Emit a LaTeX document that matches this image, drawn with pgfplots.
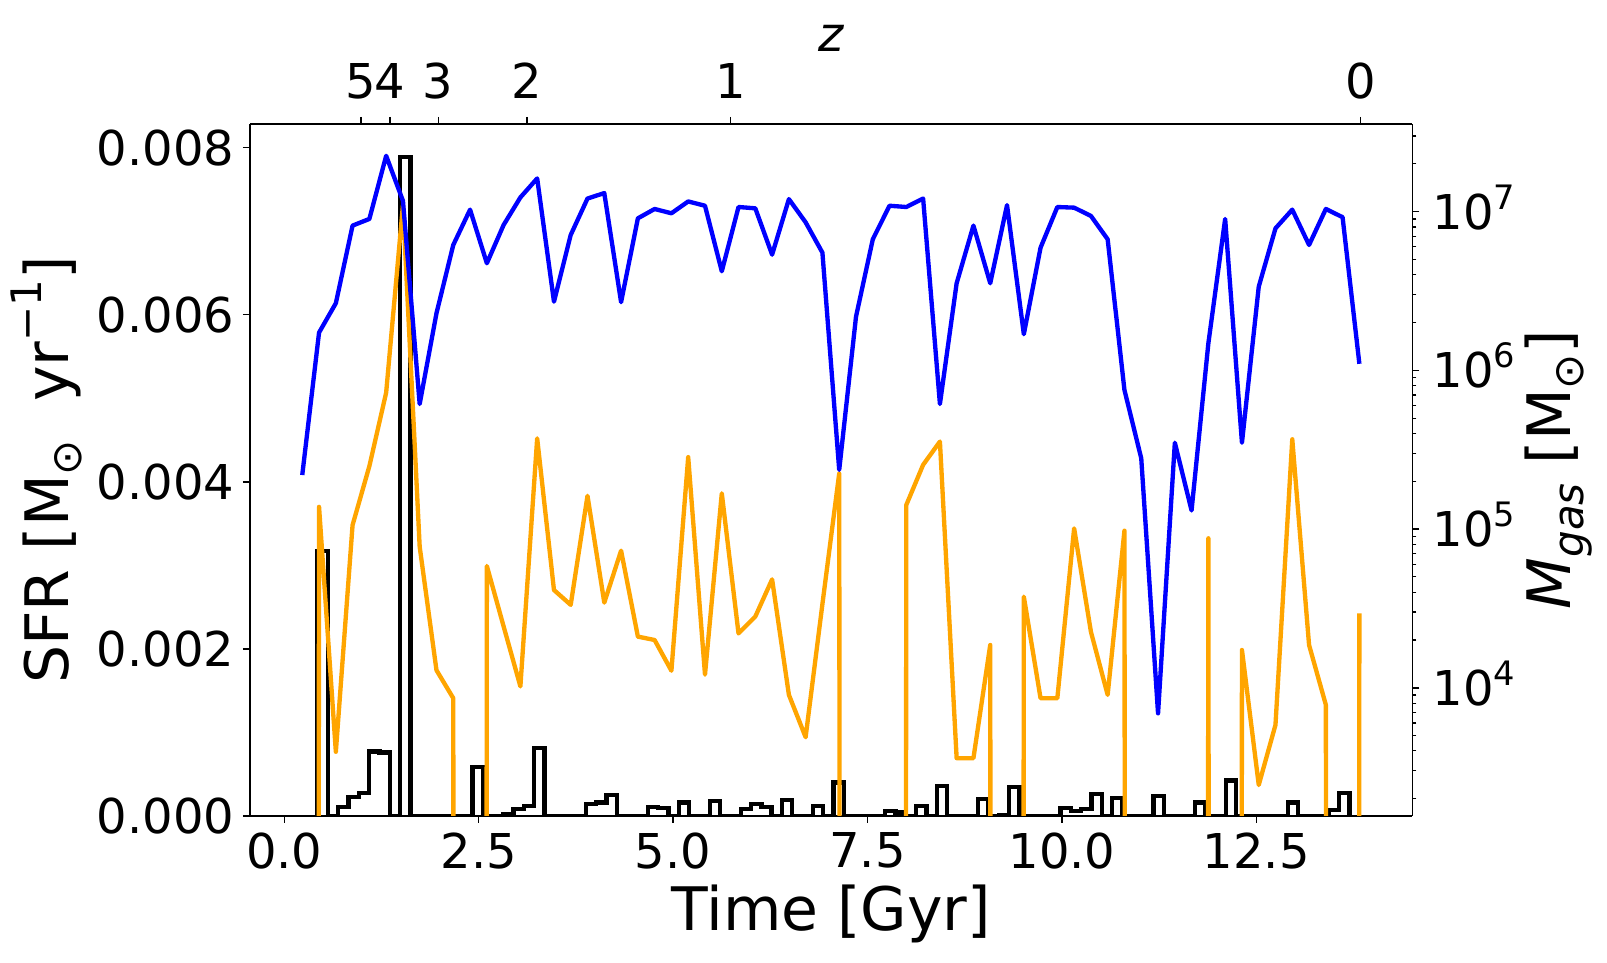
\documentclass[border=0pt]{standalone}
\usepackage{fontspec}
\setmainfont{DejaVu Sans}
\usepackage{pgfplots}
\usepackage{pgfplotstable}
\pgfplotsset{compat=1.18}

\definecolor{gasblue}{RGB}{0,0,255}
\definecolor{coldorange}{RGB}{255,165,0}

\newcommand{\ticksize}{\fontsize{14.4}{14.4}\selectfont}
\newcommand{\labsize}{\fontsize{18}{18}\selectfont}
\newcommand{\dec}[1]{10\raisebox{0.42em}{\fontsize{10.1}{10.1}\selectfont #1}}
\newcommand{\msun}{M\raisebox{-0.22em}{\fontsize{12.6}{12.6}\selectfont ⊙}}

% Gas masses per snapshot: total gas (blue) and cold gas (orange).
% A cold-gas value of 1e-100 stands for an empty snapshot (no cold gas).
\pgfplotstableread{
t       gas      cold
0.231   2.19e5   1e-100
0.447   1.73e6   1.38e5
0.663   2.65e6   3.95e3
0.878   8.17e6   1.06e5
1.094   9.00e6   2.49e5
1.310   2.25e7   7.24e5
1.526   1.17e7   1.10e7
1.741   6.14e5   7.74e4
1.957   2.29e6   1.29e4
2.173   6.17e6   8.59e3
2.389   1.03e7   1e-100
2.605   4.73e6   5.85e4
2.820   8.24e6   2.44e4
3.036   1.23e7   1.02e4
3.252   1.62e7   3.73e5
3.468   2.71e6   4.13e4
3.683   7.13e6   3.33e4
3.899   1.21e7   1.62e5
4.115   1.31e7   3.44e4
4.331   2.69e6   7.31e4
4.547   9.08e6   2.10e4
4.762   1.04e7   2.00e4
4.978   9.77e6   1.28e4
5.194   1.16e7   2.84e5
5.410   1.09e7   1.21e4
5.626   4.21e6   1.68e5
5.841   1.07e7   2.20e4
6.057   1.05e7   2.81e4
6.273   5.36e6   4.82e4
6.489   1.20e7   9.02e3
6.704   8.57e6   4.88e3
6.920   5.52e6   3.37e4
7.136   2.36e5   2.24e5
7.352   2.18e6   1e-100
7.568   6.70e6   1e-100
7.783   1.09e7   1e-100
7.999   1.07e7   1.42e5
8.215   1.21e7   2.54e5
8.431   6.14e5   3.56e5
8.646   3.54e6   3.60e3
8.862   8.17e6   3.60e3
9.078   3.54e6   1.86e4
9.294   1.10e7   1e-100
9.510   1.69e6   3.75e4
9.725   5.93e6   8.59e3
9.941   1.07e7   8.59e3
10.157  1.06e7   1.01e5
10.373  9.40e6   2.25e4
10.588  6.70e6   9.02e3
10.804  7.52e5   9.77e4
11.020  2.79e5   1e-100
11.236  6.90e3   1e-100
11.452  3.50e5   1e-100
11.667  1.31e5   1e-100
11.883  1.48e6   8.75e4
12.099  9.00e6   1e-100
12.315  3.50e5   1.73e4
12.531  3.37e6   2.44e3
12.746  7.85e6   5.83e3
12.962  1.03e7   3.68e5
13.178  6.17e6   1.86e4
13.394  1.04e7   7.80e3
13.609  9.23e6   1e-100
13.825  1.10e6   2.94e4
}\gasdata

% Star formation rate histogram: left bin edge and SFR in the bin.
% First and last rows close the outline at zero.
\pgfplotstableread{
edge     sfr
0.4275   0
0.4275   0.003175
0.5602   0
0.6929   0.000111
0.8257   0.000231
0.9584   0.000279
1.0911   0.000770
1.2238   0.000758
1.3565   0
1.4893   0.007886
1.6220   0
1.7547   0
1.8874   0
2.0201   0
2.1529   0
2.2856   0
2.4183   0.000590
2.5510   0
2.6837   0
2.8165   0.000024
2.9492   0.000080
3.0819   0.000120
3.2146   0.000810
3.3473   0
3.4801   0
3.6128   0
3.7455   0
3.8782   0.000144
4.0109   0.000160
4.1437   0.000251
4.2764   0
4.4091   0
4.5418   0
4.6745   0.000104
4.8073   0.000092
4.9400   0
5.0727   0.000160
5.2054   0
5.3381   0
5.4709   0.000183
5.6036   0
5.7363   0
5.8690   0.000080
6.0017   0.000140
6.1345   0.000111
6.2672   0
6.3999   0.000191
6.5326   0
6.6653   0
6.7981   0.000120
6.9308   0
7.0635   0.000399
7.1962   0
7.3289   0
7.4617   0
7.5944   0
7.7271   0.000060
7.8598   0.000040
7.9925   0
8.1253   0.000120
8.2580   0
8.3907   0.000359
8.5234   0
8.6561   0
8.7889   0
8.9216   0.000200
9.0543   0
9.1870   0.000010
9.3197   0.000351
9.4525   0
9.5852   0
9.7179   0
9.8506   0
9.9833   0.000092
10.1161  0.000063
10.2488  0.000080
10.3815  0.000263
10.5142  0
10.6469  0.000212
10.7797  0
10.9124  0
11.0451  0
11.1778  0.000239
11.3105  0
11.4433  0
11.5760  0
11.7087  0.000160
11.8414  0
11.9741  0
12.1069  0.000423
12.2396  0
12.3723  0
12.5050  0
12.6377  0
12.7705  0
12.9032  0.000160
13.0359  0
13.1686  0
13.3013  0
13.4341  0.000072
13.5668  0.000279
13.6995  0
}\sfrhist

\pgfplotsset{
  common/.style={
    at={(0,0)}, anchor=south west,
    scale only axis, width=348.7pt, height=207.6pt,
    xmin=-0.441, xmax=14.506,
    axis line style={line width=0.48pt, black},
    tick align=outside,
    major tick length=2.1pt, minor tick length=1.2pt,
    every tick/.style={black, line width=0.45pt},
    every minor tick/.style={black, line width=0.35pt},
    tick label style={font=\ticksize},
    scaled x ticks=false, scaled y ticks=false,
  },
}

\begin{document}
\begin{tikzpicture}
\path[use as bounding box] (-75pt,-44.1pt) rectangle (407.1pt,244.8pt);

% Star formation rate (left axis, time along the bottom)
\begin{axis}[
  common,
  ymin=0, ymax=0.008282,
  axis x line*=bottom, axis y line*=left,
  xtick={0,2.5,5,7.5,10,12.5},
  xticklabels={0.0,2.5,5.0,7.5,10.0,12.5},
  ytick={0,0.002,0.004,0.006,0.008},
  yticklabels={0.000,0.002,0.004,0.006,0.008},
  xticklabel style={anchor=north, inner sep=0pt, yshift=-2.7pt},
  yticklabel style={anchor=east, inner sep=0pt, xshift=-2.4pt},
  xlabel={Time [Gyr]},
  xlabel style={font=\labsize, at={(axis description cs:0.5,0)}, anchor=base, yshift=-34.4pt},
  ylabel={SFR [\msun\ \ yr\raisebox{0.45em}{\fontsize{12.6}{12.6}\selectfont −1}]},
  ylabel style={font=\labsize, at={(axis description cs:-0.156,0.5)}, anchor=base},
]
\addplot[black, line width=1.3pt, const plot, line join=miter] table[x=edge, y=sfr] {\sfrhist};
\end{axis}

% Gas masses (right log axis, redshift along the top)
\begin{axis}[
  common,
  ymode=log, ymin=1556, ymax=3.57e7,
  axis x line*=top, axis y line*=right,
  xtick={0.986,1.359,1.980,3.121,5.741,13.837},
  xticklabels={5,4,3,2,1,0},
  ytick={1e4,1e5,1e6,1e7},
  yticklabels={\dec{4},\dec{5},\dec{6},\dec{7}},
  minor ytick={2e3,3e3,4e3,5e3,6e3,7e3,8e3,9e3,2e4,3e4,4e4,5e4,6e4,7e4,8e4,9e4,
               2e5,3e5,4e5,5e5,6e5,7e5,8e5,9e5,2e6,3e6,4e6,5e6,6e6,7e6,8e6,9e6,2e7,3e7},
  xticklabel style={anchor=south, inner sep=0pt, yshift=5.2pt},
  yticklabel style={anchor=base west, inner sep=0pt, xshift=3.8pt, yshift=-5.25pt},
  xlabel={\textit{z}},
  xlabel style={font=\ticksize, at={(axis description cs:0.5,1.1045)}, anchor=base},
  ylabel={\textit{M}\raisebox{-0.22em}{\fontsize{12.6}{12.6}\selectfont\textit{gas}} [\msun]},
  ylabel style={font=\labsize, at={(axis description cs:1.1362,0.5)}, anchor=base},
]
\addplot[coldorange, line width=1.3pt, line join=round] table[x=t, y=cold] {\gasdata};
\addplot[gasblue, line width=1.3pt, line join=round] table[x=t, y=gas] {\gasdata};
\end{axis}
\end{tikzpicture}
\end{document}
